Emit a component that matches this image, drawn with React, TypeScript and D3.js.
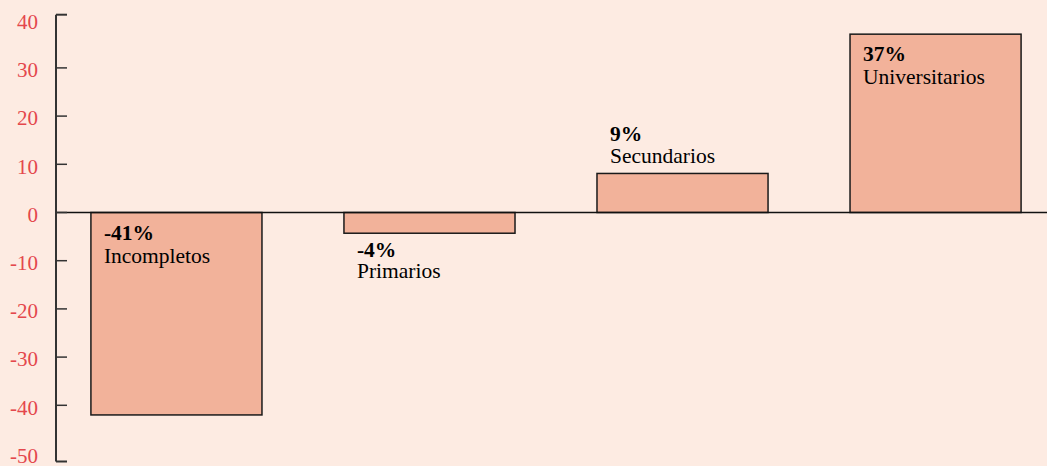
import React from "react";
import * as d3 from "d3";

const categories = ["Incompletos", "Primarios", "Secundarios", "Universitarios"];
const values = [-42, -4.3, 8.1, 37];
const valueLabels = ["-41%", "-4%", "9%", "37%"];
const tickValues = [40, 30, 20, 10, 0, -10, -20, -30, -40, -50];

const W = 1047;
const H = 466;
const AXIS_X = 56;
const BG = "#fdebe2";
const BAR_FILL = "#f2b29a";
const TICK_COLOR = "#e4474c";
const FONT = "'Liberation Serif', 'Times New Roman', serif";

export default function App() {
  const y = d3.scaleLinear().domain([-50, 40]).range([453.5, 19.7]);
  const x = d3
    .scaleBand<string>()
    .domain(categories)
    .range([AXIS_X, 1056])
    .paddingInner(0.324)
    .paddingOuter(0.138);

  const y0 = y(0);
  const top = y(40) - 5;
  const bottom = y(-50) + 8;

  React.useEffect(() => {
    document.body.style.margin = "0";
    document.body.style.background = BG;
  }, []);

  return (
    <svg
      width={W}
      height={H}
      style={{ position: "absolute", left: 0, top: 0, display: "block" }}
      fontFamily={FONT}
    >
      <rect x={0} y={0} width={W} height={H} fill={BG} />
      {/* bars */}
      {categories.map((c, i) => {
        const v = values[i];
        const bx = x(c)!;
        const bw = x.bandwidth();
        const ry = Math.min(y(v), y0);
        const rh = Math.abs(y(v) - y0);
        const tx = bx + 13;
        let b1: number, b2: number;
        if (rh > 60) {
          b1 = ry + 27;
          b2 = ry + 50;
        } else if (v >= 0) {
          b1 = ry - 32;
          b2 = ry - 10;
        } else {
          b1 = ry + rh + 23.5;
          b2 = ry + rh + 45;
        }
        return (
          <g key={c}>
            <rect x={bx} y={ry} width={bw} height={rh} fill={BAR_FILL} stroke="#1a1a1a" strokeWidth={1.5} />
            <text x={tx} y={b1} fontSize={21.5} fontWeight="bold" fill="#000">
              {valueLabels[i]}
            </text>
            <text x={tx} y={b2} fontSize={21.5} fill="#000">
              {c}
            </text>
          </g>
        );
      })}
      {/* zero line */}
      <line x1={AXIS_X} x2={W} y1={y0} y2={y0} stroke="#111" strokeWidth={1.5} />
      {/* axis */}
      <line x1={AXIS_X} x2={AXIS_X} y1={top} y2={bottom} stroke="#333" strokeWidth={2} />
      <line x1={AXIS_X} x2={AXIS_X + 11} y1={top} y2={top} stroke="#333" strokeWidth={2} />
      <line x1={AXIS_X} x2={AXIS_X + 11} y1={bottom} y2={bottom} stroke="#333" strokeWidth={2} />
      {tickValues
        .filter((t) => t !== 40 && t !== -50)
        .map((t) => (
          <line key={"t" + t} x1={AXIS_X} x2={AXIS_X + 11} y1={y(t)} y2={y(t)} stroke="#333" strokeWidth={1.5} />
        ))}
      {tickValues.map((t) => (
        <text
          key={"l" + t}
          x={38}
          y={y(t) + 2}
          dy="0.35em"
          textAnchor="end"
          fontSize={21}
          fill={TICK_COLOR}
        >
          {t}
        </text>
      ))}
    </svg>
  );
}
